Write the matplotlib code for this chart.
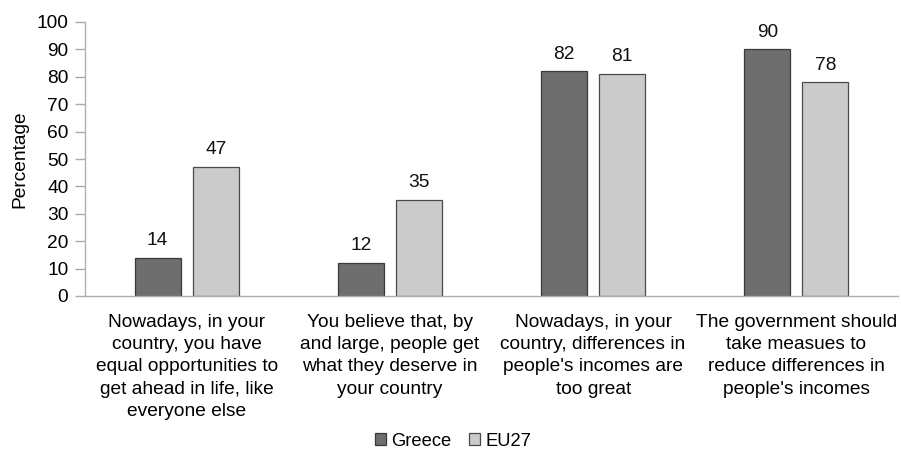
import matplotlib
matplotlib.use("Agg")
import matplotlib.pyplot as plt
import numpy as np

plt.rcParams['font.family'] = ['Liberation Sans', 'DejaVu Sans']

categories = [
    "Nowadays, in your\ncountry, you have\nequal opportunities to\nget ahead in life, like\neveryone else",
    "You believe that, by\nand large, people get\nwhat they deserve in\nyour country",
    "Nowadays, in your\ncountry, differences in\npeople's incomes are\ntoo great",
    "The government should\ntake measues to\nreduce differences in\npeople's incomes",
]
greece = [14, 12, 82, 90]
eu27 = [47, 35, 81, 78]
series_names = ["Greece", "EU27"]
yticks = list(range(0, 101, 10))

FS = 13.8

fig = plt.figure(figsize=(9.01, 4.53), dpi=100)
ax = fig.add_axes([85 / 901, 1 - 296 / 453, 813 / 901, 274 / 453])

x = np.arange(len(categories))
w = 0.226
off = 0.143
b1 = ax.bar(x - off, greece, w, color="#6e6e6e", edgecolor="#3a3a3a", linewidth=0.9, label=series_names[0])
b2 = ax.bar(x + off, eu27, w, color="#cbcbcb", edgecolor="#4a4a4a", linewidth=0.9, label=series_names[1])

for bars, vals in ((b1, greece), (b2, eu27)):
    for r, v in zip(bars, vals):
        ax.text(r.get_x() + r.get_width() / 2, v + 3.2, str(v), ha="center", va="bottom",
                fontsize=FS, color="#111111")

ax.set_xlim(-0.5, len(categories) - 0.5)
ax.set_ylim(0, 100)
ax.set_yticks(yticks)
ax.set_yticklabels([str(t) for t in yticks], fontsize=FS)
ax.set_xticks(x)
ax.set_xticklabels(categories, fontsize=FS, linespacing=1.4, va="top")
ax.tick_params(axis="x", length=0, pad=13)
ax.tick_params(axis="y", length=7, color="#aaaaaa", width=1, pad=5)
ax.set_ylabel("Percentage", fontsize=FS, labelpad=6)

for s in ("top", "right"):
    ax.spines[s].set_visible(False)
for s in ("left", "bottom"):
    ax.spines[s].set_color("#b0b0b0")
    ax.spines[s].set_linewidth(1)

fig.legend(handles=[b1, b2], labels=series_names, loc="center", bbox_to_anchor=(453 / 901, 1 - 441 / 453),
           ncol=2, frameon=False, fontsize=13.2, handlelength=0.6, handleheight=0.6,
           handletextpad=0.3, columnspacing=0.95, borderaxespad=0)

fig.savefig("out.png", dpi=100)
